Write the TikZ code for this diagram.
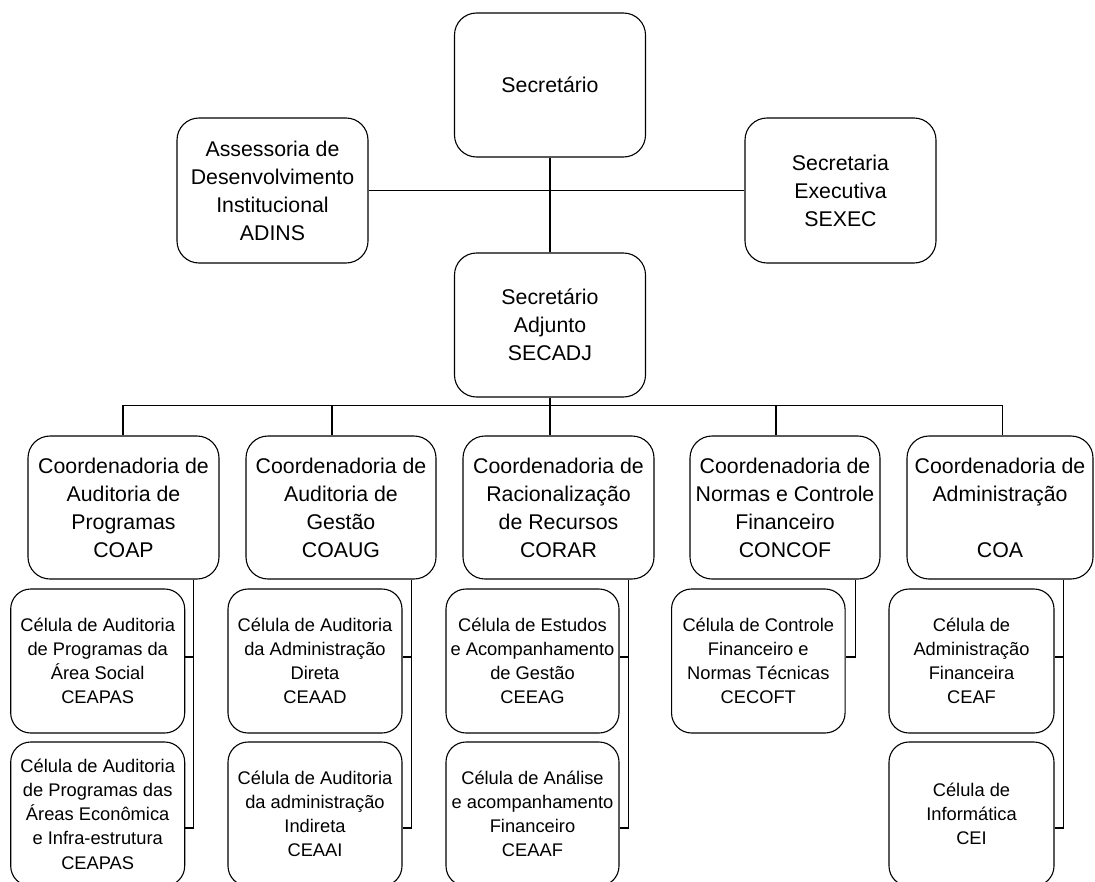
\documentclass[tikz,border=0pt]{standalone}
\usepackage{fontspec}
\setmainfont{Liberation Sans}
\begin{document}
\begin{tikzpicture}[x=1pt,y=-1pt,
  box/.style={draw=black,line width=1.1pt,rounded corners=22pt,inner sep=0pt,
    align=center,font=\fontsize{21.3}{28}\selectfont},
  cell/.style={draw=black,line width=1.1pt,rounded corners=20pt,inner sep=0pt,
    align=center,minimum height=144pt,font=\fontsize{18.3}{24.2}\selectfont},
  link/.style={draw=black,line width=1.1pt}]
\clip (0,0) rectangle (1095,881);

% top levels
\node[box,minimum width=191pt,minimum height=144pt] (sec) at (550,85) {Secretário};
\node[box,minimum width=191pt,minimum height=145pt] (adins) at (272.5,190.5)
  {Assessoria de\\Desenvolvimento\\Institucional\\ADINS};
\node[box,minimum width=191pt,minimum height=145pt] (sexec) at (840.5,190.5)
  {Secretaria\\Executiva\\SEXEC};
\node[box,minimum width=191pt,minimum height=144pt] (secadj) at (550,325)
  {Secretário\\Adjunto\\SECADJ};

% coordinations
\node[box,minimum width=191pt,minimum height=143pt] (coap) at (123.5,507.5)
  {Coordenadoria de\\Auditoria de\\Programas\\COAP};
\node[box,minimum width=190pt,minimum height=143pt] (coaug) at (341,507.5)
  {Coordenadoria de\\Auditoria de\\Gestão\\COAUG};
\node[box,minimum width=191pt,minimum height=143pt] (corar) at (558.5,507.5)
  {Coordenadoria de\\Racionalização\\de Recursos\\CORAR};
\node[box,minimum width=190pt,minimum height=143pt] (concof) at (785,507.5)
  {Coordenadoria de\\Normas e Controle\\Financeiro\\CONCOF};
\node[box,minimum width=186pt,minimum height=143pt] (coa) at (1000,507.5)
  {Coordenadoria de\\Administração\\[28pt]COA};

% cells
\node[cell,minimum width=174pt] (c1a) at (97.7,661)
  {Célula de Auditoria\\de Programas da\\Área Social\\CEAPAS};
\node[cell,minimum width=174pt] (c1b) at (97.7,814)
  {Célula de Auditoria\\de Programas das\\Áreas Econômica\\e Infra-estrutura\\CEAPAS};
\node[cell,minimum width=174pt] (c2a) at (315,661)
  {Célula de Auditoria\\da Administração\\Direta\\CEAAD};
\node[cell,minimum width=174pt] (c2b) at (315,814)
  {Célula de Auditoria\\da administração\\Indireta\\CEAAI};
\node[cell,minimum width=173pt] (c3a) at (532.5,661)
  {Célula de Estudos\\e Acompanhamento\\de Gestão\\CEEAG};
\node[cell,minimum width=173pt] (c3b) at (532.5,814)
  {Célula de Análise\\e acompanhamento\\Financeiro\\CEAAF};
\node[cell,minimum width=173.5pt] (c4a) at (758.3,661)
  {Célula de Controle\\Financeiro e\\Normas Técnicas\\CECOFT};
\node[cell,minimum width=165pt] (c5a) at (971.5,661)
  {Célula de\\Administração\\Financeira\\CEAF};
\node[cell,minimum width=165pt] (c5b) at (971.5,814)
  {Célula de\\Informática\\CEI};

% upper connectors
\draw[link] (sec.south) -- (secadj.north);
\draw[link] (adins.east) -- (sexec.west);

% bus below the adjunct secretary
\coordinate (bus) at (550,405.7);
\draw[link] (secadj.south) -- (bus);
\draw[link] (bus) -| ([xshift=-0.5pt]coap.north);
\draw[link] (bus) -| ([xshift=-9pt]coaug.north);
\draw[link] (bus) -| ([xshift=-8.5pt]corar.north);
\draw[link] (bus) -| ([xshift=-9pt]concof.north);
\draw[link] (bus) -| ([xshift=2.7pt]coa.north);

% cells hanging from each coordination
\draw[link] ([xshift=-26pt]coap.south east) |- ([yshift=4pt]c1a.east);
\draw[link] ([xshift=-26pt]coap.south east) |- ([yshift=-14pt]c1b.east);
\draw[link] ([xshift=-25.3pt]coaug.south east) |- ([yshift=4pt]c2a.east);
\draw[link] ([xshift=-25.3pt]coaug.south east) |- ([yshift=-14pt]c2b.east);
\draw[link] ([xshift=-26.4pt]corar.south east) |- ([yshift=4pt]c3a.east);
\draw[link] ([xshift=-26.4pt]corar.south east) |- ([yshift=-14pt]c3b.east);
\draw[link] ([xshift=-25.3pt]concof.south east) |- ([yshift=4pt]c4a.east);
\draw[link] ([xshift=-30.3pt]coa.south east) |- ([yshift=4pt]c5a.east);
\draw[link] ([xshift=-30.3pt]coa.south east) |- ([yshift=-14pt]c5b.east);
\end{tikzpicture}
\end{document}
